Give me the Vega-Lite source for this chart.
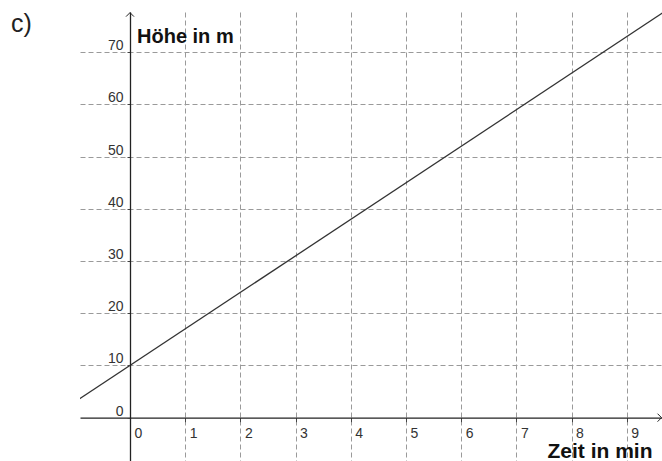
{
  "$schema": "https://vega.github.io/schema/vega-lite/v6.json",
  "width": 582,
  "height": 449,
  "autosize": "none",
  "padding": {"left": 80, "top": 12, "right": 0, "bottom": 0},
  "background": "white",
  "title": {"text": "c)", "anchor": "start", "frame": "group", "font": "Liberation Sans", "fontSize": 25, "fontWeight": "normal", "color": "#222", "dx": -69, "dy": 46, "baseline": "alphabetic", "offset": 0},
  "config": {"view": {"stroke": null}, "axis": {"labelFont": "Liberation Sans", "titleFont": "Liberation Sans"}},
  "resolve": {"axis": {"x": "independent", "y": "independent"}},
  "layer": [
    {
      "data": {"values": [{"x": -1, "y": 3}, {"x": 10, "y": 80}]},
      "mark": {"type": "line", "color": "#333", "strokeWidth": 1.3, "clip": true},
      "encoding": {
        "x": {"field": "x", "type": "quantitative", "scale": {"domain": [-0.906, 9.638], "nice": false, "zero": false},
          "axis": {"orient": "bottom", "grid": true, "gridDash": [5, 3], "gridColor": "#9a9a9a", "gridWidth": 1, "labels": false, "ticks": false, "domain": false, "title": null, "values": [0, 1, 2, 3, 4, 5, 6, 7, 8, 9]}},
        "y": {"field": "y", "type": "quantitative", "scale": {"domain": [-8.3, 77.72], "nice": false, "zero": false},
          "axis": {"orient": "left", "grid": true, "gridDash": [5, 3], "gridColor": "#9a9a9a", "gridWidth": 1, "labels": false, "ticks": false, "domain": false, "title": null, "values": [10, 20, 30, 40, 50, 60, 70]}}
      }
    },
    {
      "data": {"values": [{"x": 0, "y": 77.6, "dir": "up"}, {"x": 9.63, "y": 0, "dir": "right"}]},
      "mark": {"type": "point", "filled": false, "stroke": "#222", "strokeWidth": 1, "size": 64, "opacity": 1},
      "encoding": {
        "x": {"field": "x", "type": "quantitative",
          "axis": {"orient": "bottom", "offset": -43.3, "grid": false, "values": [0, 1, 2, 3, 4, 5, 6, 7, 8, 9], "domainColor": "#222", "domainWidth": 1.3, "tickColor": "#444", "tickSize": 4, "tickWidth": 1, "labelAlign": "left", "labelBaseline": "top", "labelPadding": 5, "labelOffset": 4, "labelFontSize": 14, "labelColor": "#333", "labelFlush": false, "labelOverlap": false, "zindex": 1,
            "title": "Zeit in min", "titleFontSize": 21, "titleFontWeight": "bold", "titleColor": "#111", "titleX": 467, "titleY": 40, "titleAlign": "left", "titleAnchor": null, "titleBaseline": "alphabetic", "titleAngle": 0}},
        "y": {"field": "y", "type": "quantitative",
          "axis": {"orient": "left", "offset": -50, "grid": false, "values": [0, 10, 20, 30, 40, 50, 60, 70], "domainColor": "#222", "domainWidth": 1.3, "tickColor": "#444", "tickSize": 3, "tickWidth": 1, "labelAlign": "right", "labelBaseline": "alphabetic", "labelPadding": 4, "labelOffset": -2.5, "labelFontSize": 14, "labelColor": "#333", "labelFlush": false, "labelOverlap": false, "zindex": 1,
            "title": "Höhe in m", "titleFontSize": 20, "titleFontWeight": "bold", "titleColor": "#111", "titleX": 6.5, "titleY": 30, "titleAlign": "left", "titleAnchor": null, "titleBaseline": "alphabetic", "titleAngle": 0}},
        "shape": {"field": "dir", "type": "nominal", "scale": {"domain": ["up", "right"], "range": ["M-1,1L0,0L1,1", "M-1,-1L0,0L-1,1"]}, "legend": null}
      }
    }
  ]
}
